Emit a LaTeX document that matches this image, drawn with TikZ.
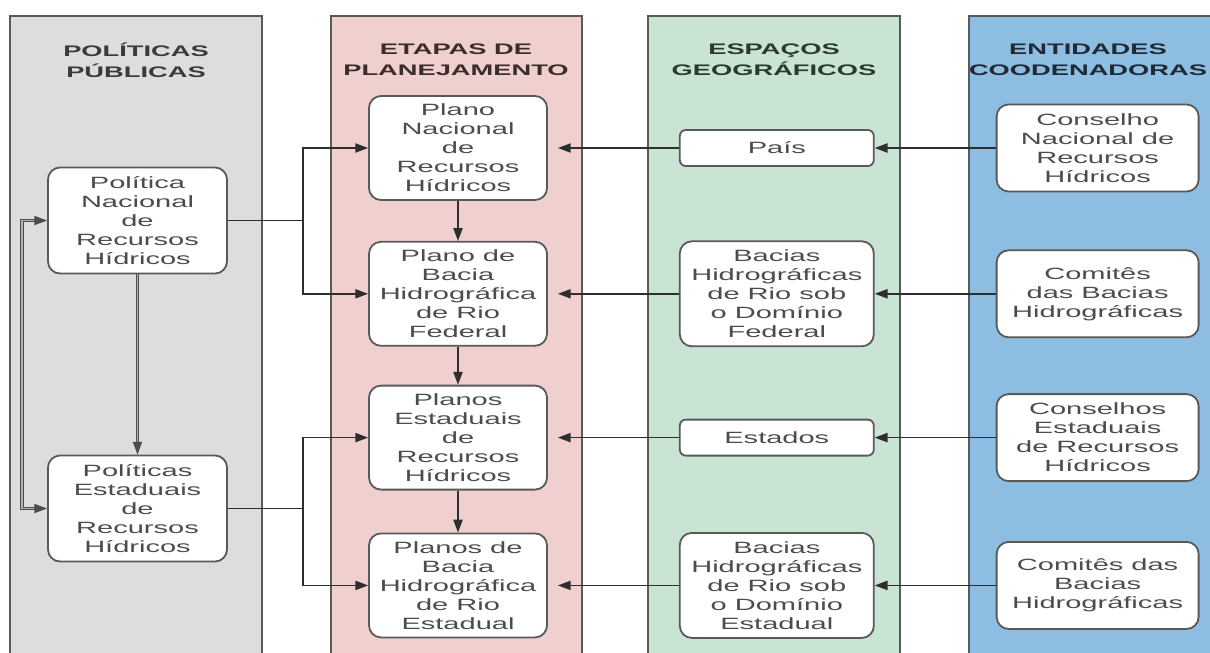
\documentclass[tikz,border=0pt]{standalone}
\usepackage{fontspec}
\setmainfont{Liberation Sans}[FakeStretch=1.78]
\usetikzlibrary{positioning, arrows.meta}

\definecolor{panelgray}{RGB}{221,221,221}
\definecolor{panelpink}{RGB}{240,207,207}
\definecolor{panelgreen}{RGB}{202,228,212}
\definecolor{panelblue}{RGB}{141,190,226}
\definecolor{headgray}{RGB}{58,58,58}
\definecolor{headpink}{RGB}{60,44,44}
\definecolor{headgreen}{RGB}{42,58,48}
\definecolor{headblue}{RGB}{30,42,54}

\begin{document}
\begin{tikzpicture}[
  x=0.25mm, y=-0.25mm,
  font=\fontsize{11.6}{13.5}\selectfont,
  >={Triangle[length=3.2mm, width=2.3mm]},
  panelbox/.style={draw=black!65, line width=0.5mm},
  headtext/.style={font=\fontsize{10.9}{14.9}\selectfont\bfseries, align=center},
  flowbox/.style={rectangle, draw=black!65, line width=0.45mm, fill=white, rounded corners=3mm, align=center, text=black!70, inner sep=1mm},
  polbox/.style={flowbox, minimum width=44.75mm, minimum height=26.5mm},
  planbox/.style={flowbox, minimum width=44.5mm, minimum height=26mm},
  geobox/.style={flowbox, minimum width=48.5mm, minimum height=26.25mm},
  geotag/.style={flowbox, minimum width=48.5mm, minimum height=9mm, rounded corners=1.5mm},
  entbox/.style={flowbox, minimum width=50.5mm, minimum height=21.75mm},
  flowarrow/.style={->, draw=black!82, line width=0.38mm},
  flowline/.style={-, draw=black!82, line width=0.38mm},
  polline/.style={draw=black!70, double=black!30, double distance=0.3mm, line width=0.25mm}
]

\useasboundingbox (0,0) rectangle (1210,652);
\clip (0,0) rectangle (1210,652);
\fill[white] (0,0) rectangle (1210,652);

% Columns
\draw[panelbox, fill=panelgray] (10,16) rectangle (262,670);
\draw[panelbox, fill=panelpink] (331,16) rectangle (582,670);
\draw[panelbox, fill=panelgreen] (648,16) rectangle (900,670);
\draw[panelbox, fill=panelblue] (969,16) rectangle (1230,670);

\node[headtext, text=headgray] (hPol) at (136,60) {POLÍTICAS\\PÚBLICAS};
\node[headtext, text=headpink] (hPlan) at (456,60) {ETAPAS DE\\PLANEJAMENTO};
\node[headtext, text=headgreen] (hGeo) at (774,60) {ESPAÇOS\\GEOGRÁFICOS};
\node[headtext, text=headblue] (hEnt) at (1088,60) {ENTIDADES\\COODENADORAS};

% Public policies
\node[polbox] (PolNac) at (137.5,220.5) {Política\\Nacional\\de\\Recursos\\Hídricos};
\node[polbox] (PolEst) at (137.5,508.5) {Políticas\\Estaduais\\de\\Recursos\\Hídricos};

% Planning stages
\node[planbox] (PlanNac) at (458,148) {Plano\\Nacional\\de\\Recursos\\Hídricos};
\node[planbox, below=10mm of PlanNac] (PlanFed) {Plano de\\Bacia\\Hidrográfica\\de Rio\\Federal};
\node[planbox, below=9.5mm of PlanFed] (PlanEst) {Planos\\Estaduais\\de\\Recursos\\Hídricos};
\node[planbox, below=10.5mm of PlanEst] (PlanBacEst) {Planos de\\Bacia\\Hidrográfica\\de Rio\\Estadual};

% Geographic spaces
\node[geotag, right=32.75mm of PlanNac] (Pais) {País};
\node[geobox, right=32.75mm of PlanFed] (BacFed) {Bacias\\Hidrográficas\\de Rio sob\\o Domínio\\Federal};
\node[geotag, right=32.75mm of PlanEst] (Estados) {Estados};
\node[geobox, right=32.75mm of PlanBacEst] (BacEst) {Bacias\\Hidrográficas\\de Rio sob\\o Domínio\\Estadual};

% Coordinating bodies
\node[entbox, right=30.25mm of Pais] (ConsNac) {Conselho\\Nacional de\\Recursos\\Hídricos};
\node[entbox, right=30.25mm of BacFed] (ComFed) {Comitês\\das Bacias\\Hidrográficas};
\node[entbox, right=30.25mm of Estados] (ConsEst) {Conselhos\\Estaduais\\de Recursos\\Hídricos};
\node[entbox, right=30.25mm of BacEst] (ComEst) {Comitês das\\Bacias\\Hidrográficas};

% Policies
\draw[polline, <->] (PolNac.west) -- ++(-25,0) |- (PolEst.west);
\draw[polline, ->] (PolNac.south) -- (PolEst.north);

\draw[flowline] (PolNac.east) -- ++(75,0) coordinate (jNac);
\draw[flowarrow] (jNac) |- (PlanNac.west);
\draw[flowarrow] (jNac) |- (PlanFed.west);
\draw[flowline] (PolEst.east) -- ++(75,0) coordinate (jEst);
\draw[flowarrow] (jEst) |- (PlanEst.west);
\draw[flowarrow] (jEst) |- (PlanBacEst.west);

% Planning chain
\draw[flowarrow] (PlanNac.south) -- (PlanFed.north);
\draw[flowarrow] (PlanFed.south) -- (PlanEst.north);
\draw[flowarrow] (PlanEst.south) -- (PlanBacEst.north);

% Spaces into plans
\draw[flowarrow, shorten >=2.5mm] (Pais.west) -- (PlanNac.east);
\draw[flowarrow, shorten >=2.5mm] (BacFed.west) -- (PlanFed.east);
\draw[flowarrow, shorten >=2.5mm] (Estados.west) -- (PlanEst.east);
\draw[flowarrow, shorten >=2.5mm] (BacEst.west) -- (PlanBacEst.east);

% Bodies into spaces
\draw[flowarrow] (ConsNac.west) -- (Pais.east);
\draw[flowarrow] (ComFed.west) -- (BacFed.east);
\draw[flowarrow] (ConsEst.west) -- (Estados.east);
\draw[flowarrow] (ComEst.west) -- (BacEst.east);

\end{tikzpicture}
\end{document}
